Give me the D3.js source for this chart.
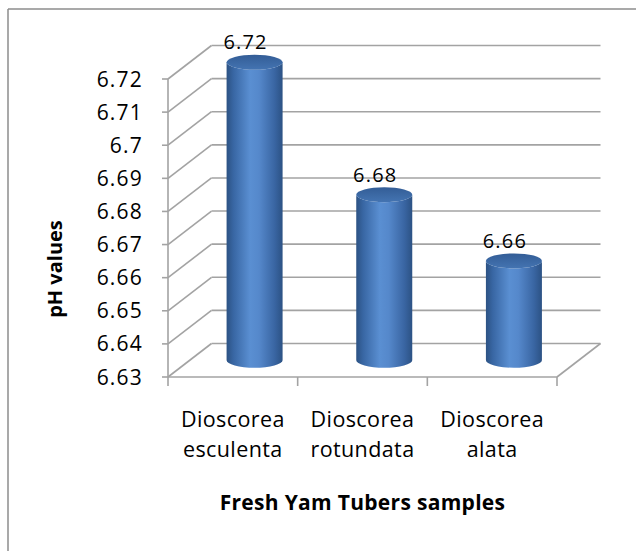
<!DOCTYPE html>
<html>
<head>
<meta charset="utf-8">
<script src="https://cdn.jsdelivr.net/npm/d3@7/dist/d3.min.js"></script>
<style>
  html, body { margin: 0; padding: 0; background: #fff; }
  svg { display: block; }
  text { font-family: "Open Sans", "Liberation Sans", sans-serif; fill: #000; }
</style>
</head>
<body>
<svg id="chart" width="636" height="551"></svg>
<script>
// Samples and their pH
const categories = [["Dioscorea", "esculenta"], ["Dioscorea", "rotundata"], ["Dioscorea", "alata"]];
const values = [6.72, 6.68, 6.66];
const yTicks = [6.63, 6.64, 6.65, 6.66, 6.67, 6.68, 6.69, 6.70, 6.71, 6.72];
const yTickLabels = ["6.63", "6.64", "6.65", "6.66", "6.67", "6.68", "6.69", "6.7", "6.71", "6.72"];
const xTitle = "Fresh Yam Tubers samples";
const yTitle = "pH values";

(function draw() {
  const svg = d3.select("#chart");
  const W = 636, H = 551;

  // front plane of the 3-D plot box
  const plotLeft = 168, plotRight = 557, plotBottom = 377, plotTop = 79;
  // depth offset of the back wall
  const dx = 43.5, dy = -33.5;

  const keys = categories.map(c => c.join(" "));
  const x = d3.scaleBand().domain(keys).range([plotLeft, plotRight]).padding(0);
  const y = d3.scaleLinear().domain([6.63, 6.72]).range([plotBottom, plotTop]);

  // outer frame
  const frame = svg.append("g").attr("stroke", "#8c8c8c").attr("stroke-width", 1.5).attr("fill", "none");
  frame.append("line").attr("x1", 8).attr("y1", 9).attr("x2", W).attr("y2", 9);
  frame.append("line").attr("x1", 8).attr("y1", 9).attr("x2", 8).attr("y2", H);

  // gradients for the cylinders
  const defs = svg.append("defs");
  const side = defs.append("linearGradient").attr("id", "cylSide").attr("x1", "0%").attr("x2", "100%");
  [[0, "#2c5283"], [0.12, "#3866a3"], [0.42, "#5a8fd2"], [0.58, "#5588cb"], [0.86, "#3965a2"], [1, "#2c5284"]]
    .forEach(([o, c]) => side.append("stop").attr("offset", o).attr("stop-color", c));
  const topG = defs.append("linearGradient").attr("id", "cylTop").attr("x1", "0%").attr("x2", "0%").attr("y1", "0%").attr("y2", "100%");
  [[0, "#335d96"], [1, "#4474b2"]]
    .forEach(([o, c]) => topG.append("stop").attr("offset", o).attr("stop-color", c));

  const grid = svg.append("g").attr("stroke", "#a3a3a3").attr("stroke-width", 1.6).attr("fill", "none");

  // side wall gridlines (diagonals) and back wall gridlines
  grid.selectAll("line.side").data(yTicks).join("line").attr("class", "side")
    .attr("x1", plotLeft).attr("y1", d => y(d))
    .attr("x2", plotLeft + dx).attr("y2", d => y(d) + dy);
  grid.selectAll("line.back").data(yTicks).join("line").attr("class", "back")
    .attr("x1", plotLeft + dx).attr("y1", d => y(d) + dy)
    .attr("x2", plotRight + dx).attr("y2", d => y(d) + dy);
  // floor right edge
  grid.append("line").attr("x1", plotRight).attr("y1", plotBottom).attr("x2", plotRight + dx).attr("y2", plotBottom + dy);
  // vertical axis
  grid.append("line").attr("x1", plotLeft).attr("y1", plotTop).attr("x2", plotLeft).attr("y2", plotBottom);
  // horizontal axis
  grid.append("line").attr("x1", plotLeft).attr("y1", plotBottom).attr("x2", plotRight).attr("y2", plotBottom);
  // y tick marks
  grid.selectAll("line.ytick").data(yTicks).join("line").attr("class", "ytick")
    .attr("x1", plotLeft - 6).attr("x2", plotLeft).attr("y1", d => y(d)).attr("y2", d => y(d));
  // x tick marks at category boundaries
  const bounds = keys.map(k => x(k)).concat([plotRight]);
  grid.selectAll("line.xtick").data(bounds).join("line").attr("class", "xtick")
    .attr("x1", d => d).attr("x2", d => d).attr("y1", plotBottom).attr("y2", plotBottom + 9);

  // y tick labels
  svg.append("g").selectAll("text").data(yTicks).join("text")
    .attr("x", 143).attr("y", d => y(d)).attr("dy", "0.36em")
    .attr("text-anchor", "end").attr("font-size", 21).attr("letter-spacing", 1.2)
    .text((d, i) => yTickLabels[i]);

  // cylinders
  const rx = 28, ry = 7.5;
  const baseY = plotBottom + dy / 2;
  const bars = svg.append("g");
  values.forEach((v, i) => {
    const cx = x(keys[i]) + x.bandwidth() / 2 + dx / 2;
    const ty = y(v) + dy / 2;
    bars.append("path")
      .attr("d", `M${cx - rx},${ty} L${cx - rx},${baseY} A${rx},${ry} 0 0 0 ${cx + rx},${baseY} L${cx + rx},${ty} A${rx},${ry} 0 0 1 ${cx - rx},${ty} Z`)
      .attr("fill", "url(#cylSide)");
    bars.append("ellipse")
      .attr("cx", cx).attr("cy", ty).attr("rx", rx).attr("ry", ry)
      .attr("fill", "url(#cylTop)");
    // value label
    svg.append("text")
      .attr("x", cx - 9).attr("y", ty - 13)
      .attr("text-anchor", "middle").attr("font-size", 20).attr("letter-spacing", 1.2)
      .text(d3.format(".2f")(v));
  });

  // category labels (two lines)
  const cat = svg.append("g");
  categories.forEach((c, i) => {
    const cxl = x(keys[i]) + x.bandwidth() / 2;
    const t = cat.append("text")
      .attr("text-anchor", "middle").attr("font-size", 21.5).attr("letter-spacing", 0.4)
      .attr("x", cxl).attr("y", 427);
    c.forEach((line, j) => {
      t.append("tspan").attr("x", cxl).attr("y", 427 + j * 30).text(line);
    });
  });

  // axis titles
  svg.append("text")
    .attr("x", (plotLeft + plotRight) / 2).attr("y", 510)
    .attr("text-anchor", "middle").attr("font-size", 21).attr("font-weight", "bold")
    .attr("letter-spacing", 0.3)
    .text(xTitle);
  svg.append("text")
    .attr("transform", "translate(62,269) rotate(-90)")
    .attr("text-anchor", "middle").attr("font-size", 20).attr("font-weight", "bold")
    .text(yTitle);
})();
</script>
</body>
</html>
